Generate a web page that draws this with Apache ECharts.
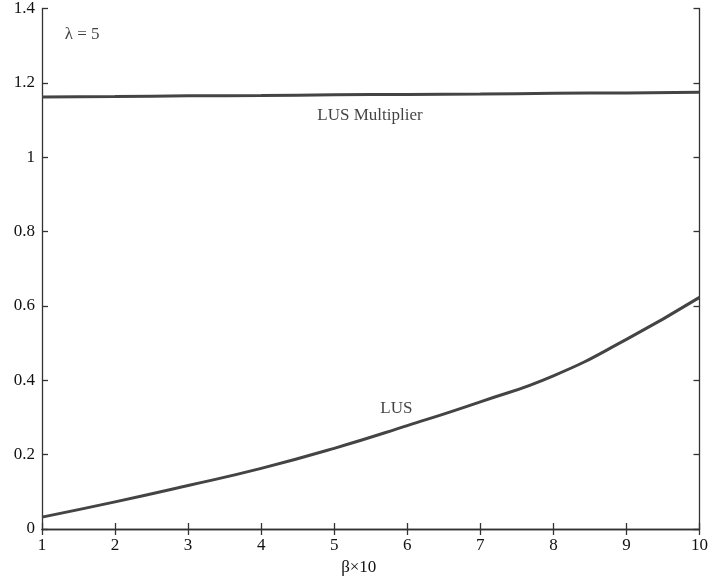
<!DOCTYPE html>
<html>
<head>
<meta charset="utf-8">
<script src="https://cdn.jsdelivr.net/npm/echarts@6/dist/echarts.min.js"></script>
<style>html,body{margin:0;padding:0;background:#fff}#c{width:711px;height:582px}</style>
</head>
<body>
<div id="c"></div>
<script>
const betaX = [1, 2, 3, 4, 5, 6, 7, 8, 9, 10];
const lusMultiplier = [1.162, 1.163, 1.165, 1.166, 1.168, 1.169, 1.170, 1.172, 1.173, 1.175];
const lus = [0.032, 0.073, 0.117, 0.163, 0.217, 0.278, 0.342, 0.412, 0.510, 0.623];
const xTicks = [1, 2, 3, 4, 5, 6, 7, 8, 9, 10];
const yTicks = [0, 0.2, 0.4, 0.6, 0.8, 1, 1.2, 1.4];
const annotationText = ['LUS Multiplier', 'LUS', 'λ = 5'];
const annotationX = [5.49, 5.85, 1.55];
const annotationY = [1.113, 0.325, 1.331];

const FONT = 'Liberation Serif';
const FS = 17;
const AX = '#333';
const chart = echarts.init(document.getElementById('c'));
const axisCommon = {
  axisLine: {show: true, lineStyle: {color: AX, width: 1.3}},
  axisTick: {show: true, inside: true, length: 6, lineStyle: {color: AX, width: 1.3}},
  splitLine: {show: false}
};
chart.setOption({
  animation: false,
  backgroundColor: '#fff',
  grid: {left: 42, right: 10, top: 8, bottom: 53, containLabel: false},
  xAxis: [
    Object.assign({type: 'value', min: 1, max: 10, interval: 1, position: 'bottom',
      name: 'β×10', nameLocation: 'middle', nameGap: 27,
      nameTextStyle: {fontFamily: FONT, fontSize: FS, color: '#111', padding: [0, 24, 0, 0]},
      axisLabel: {fontFamily: FONT, fontSize: FS, color: '#111', margin: 8,
        formatter: v => xTicks.includes(v) ? String(v) : ''}}, axisCommon),
    Object.assign({type: 'value', min: 1, max: 10, interval: 1, position: 'top',
      axisLabel: {show: false}}, axisCommon)
  ],
  yAxis: [
    Object.assign({type: 'value', min: 0, max: 1.4, interval: 0.2, position: 'left',
      axisLabel: {fontFamily: FONT, fontSize: FS, color: '#111', margin: 7,
        formatter: v => { const t = yTicks.find(x => Math.abs(x - v) < 1e-6); return t === undefined ? '' : String(t); }}}, axisCommon),
    Object.assign({type: 'value', min: 0, max: 1.4, interval: 0.2, position: 'right',
      axisLabel: {show: false}}, axisCommon)
  ],
  series: [
    {
      type: 'line', name: 'LUS Multiplier', smooth: true, symbol: 'none',
      lineStyle: {color: '#444', width: 3},
      data: betaX.map((x, i) => [x, lusMultiplier[i]])
    },
    {
      type: 'line', name: 'LUS', smooth: true, symbol: 'none',
      lineStyle: {color: '#444', width: 3},
      data: betaX.map((x, i) => [x, lus[i]])
    },
    {
      type: 'scatter', symbolSize: 1, silent: true,
      itemStyle: {color: 'rgba(0,0,0,0)'},
      label: {show: true, position: 'inside', fontFamily: FONT, fontSize: FS, color: '#111',
        formatter: p => annotationText[p.dataIndex]},
      data: annotationX.map((x, i) => [x, annotationY[i]])
    }
  ]
});
</script>
</body>
</html>
